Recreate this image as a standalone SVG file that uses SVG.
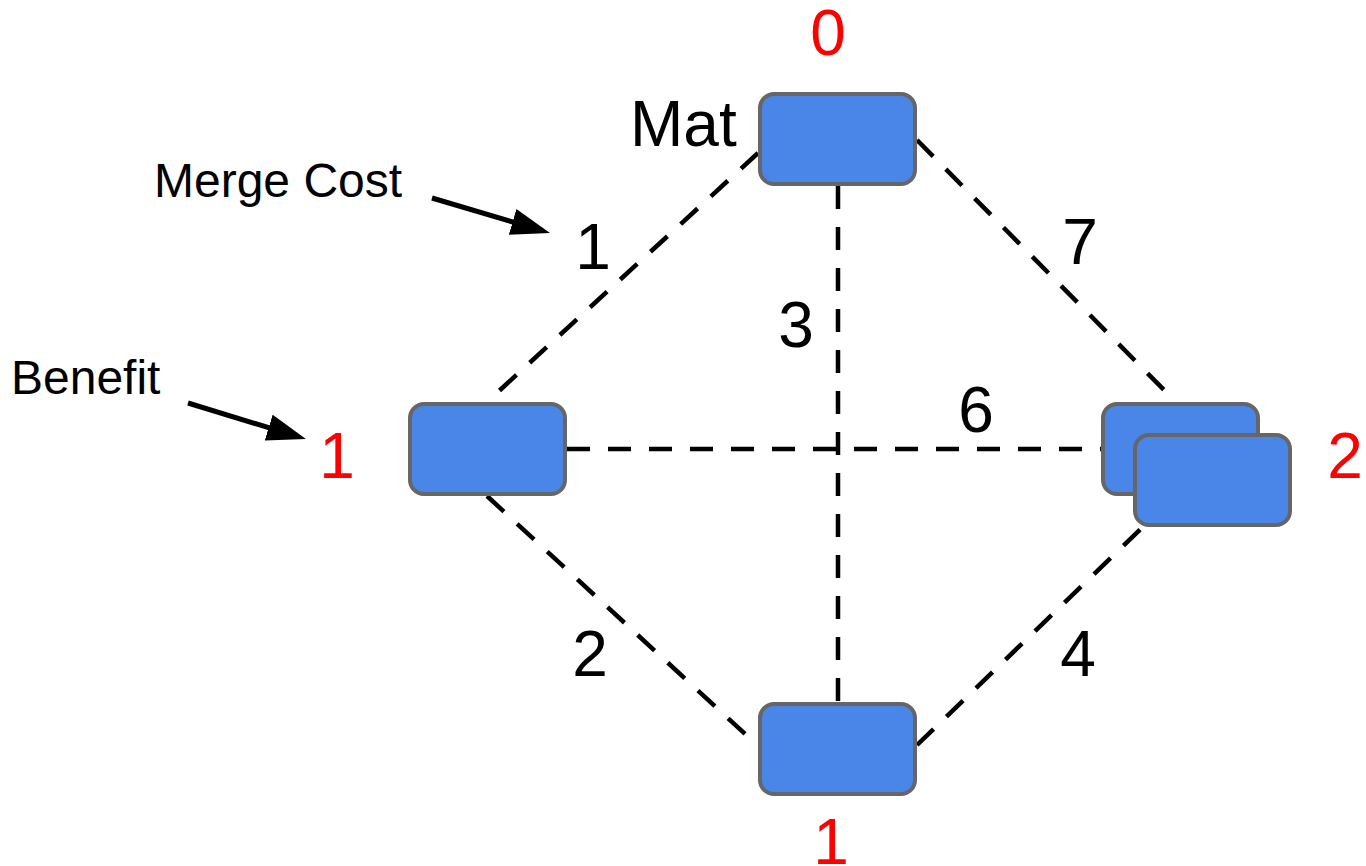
<svg xmlns="http://www.w3.org/2000/svg" width="1366" height="866" viewBox="0 0 1366 866">
<defs>
<marker id="ah" markerUnits="userSpaceOnUse" markerWidth="40" markerHeight="28" refX="29" refY="13.5" orient="auto">
<path d="M0,0 L39,13.5 L0,27 z" fill="#000"/>
</marker>
<style>
.node{fill:#4a86e8;stroke:#666666;stroke-width:4}
.dash{stroke:#000;stroke-width:4.5;stroke-dasharray:23 18;fill:none}
.lbl{font-family:"Liberation Sans",Arial,sans-serif;font-size:64px;fill:#000}
.red{font-family:"Liberation Sans",Arial,sans-serif;font-size:64px;fill:#ff0000;text-anchor:middle}
.note{font-family:"Liberation Sans",Arial,sans-serif;font-size:48px;fill:#000}
.arr{stroke:#000;stroke-width:5;fill:none;marker-end:url(#ah)}
</style>
</defs>
<rect width="1366" height="866" fill="#fff"/>
<g id="connectors">
<line class="dash" x1="758" y1="153" x2="487" y2="402"/>
<line class="dash" x1="838" y1="186" x2="838" y2="703"/>
<line class="dash" x1="917" y1="140" x2="1170" y2="396"/>
<line class="dash" x1="567" y1="449" x2="1101" y2="449"/>
<line class="dash" x1="487" y1="496" x2="757" y2="745"/>
<line class="dash" x1="917" y1="745" x2="1148" y2="522"/>
<text class="lbl" x="593" y="269" text-anchor="middle">1</text>
<text class="lbl" x="796" y="347" text-anchor="middle">3</text>
<text class="lbl" x="1080" y="264" text-anchor="middle">7</text>
<text class="lbl" x="976" y="432" text-anchor="middle">6</text>
<text class="lbl" x="590" y="676" text-anchor="middle">2</text>
<text class="lbl" x="1078" y="676" text-anchor="middle">4</text>
</g>
<g id="node-top">
<rect class="node" x="760" y="94" width="155" height="90" rx="14"/>
<text class="lbl" x="630" y="146">Mat</text>
<text class="red" x="828" y="55">0</text>
</g>
<g id="node-left">
<rect class="node" x="410" y="404" width="155" height="90" rx="14"/>
<text class="red" x="337" y="478">1</text>
</g>
<g id="node-bottom">
<rect class="node" x="760" y="704" width="155" height="90" rx="14"/>
<text class="red" x="831" y="864">1</text>
</g>
<g id="node-right">
<rect class="node" x="1103" y="404" width="155" height="90" rx="14"/>
<rect class="node" x="1135" y="435" width="155" height="90" rx="14"/>
<text class="red" x="1345" y="478">2</text>
</g>
<g id="annot-merge">
<text class="note" x="154" y="197">Merge Cost</text>
<line class="arr" x1="432" y1="198" x2="540.4" y2="230.2"/>
</g>
<g id="annot-benefit">
<text class="note" x="11" y="394">Benefit</text>
<line class="arr" x1="188" y1="403" x2="296.4" y2="436.1"/>
</g>
</svg>
